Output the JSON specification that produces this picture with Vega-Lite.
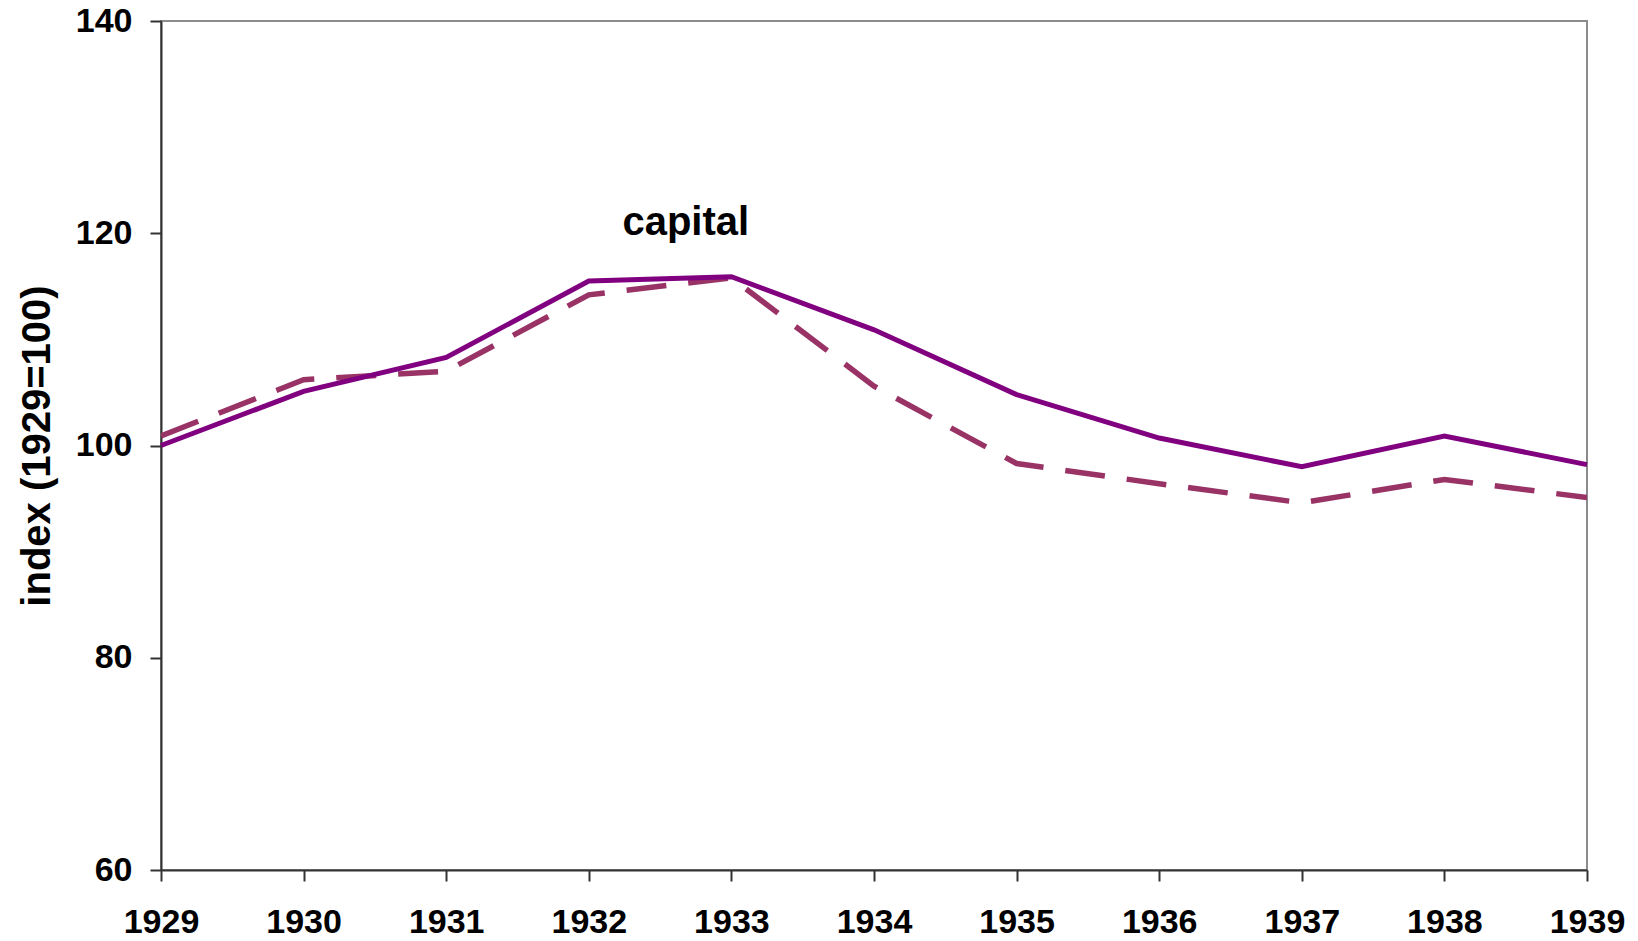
{
  "$schema": "https://vega.github.io/schema/vega-lite/v6.json",
  "width": 1426,
  "height": 849,
  "autosize": {"type": "none"},
  "padding": {"left": 161, "top": 21, "right": 51, "bottom": 71},
  "background": "white",
  "config": {
    "view": {"stroke": "#8c8c8c", "strokeWidth": 2},
    "font": "Liberation Sans"
  },
  "datasets": {
    "series": [
      {"year": 1929, "value": 100.0, "series": "capital"},
      {"year": 1930, "value": 105.1, "series": "capital"},
      {"year": 1931, "value": 108.3, "series": "capital"},
      {"year": 1932, "value": 115.5, "series": "capital"},
      {"year": 1933, "value": 115.9, "series": "capital"},
      {"year": 1934, "value": 110.9, "series": "capital"},
      {"year": 1935, "value": 104.8, "series": "capital"},
      {"year": 1936, "value": 100.7, "series": "capital"},
      {"year": 1937, "value": 98.0, "series": "capital"},
      {"year": 1938, "value": 100.9, "series": "capital"},
      {"year": 1939, "value": 98.2, "series": "capital"},
      {"year": 1929, "value": 100.9, "series": "other"},
      {"year": 1930, "value": 106.2, "series": "other"},
      {"year": 1931, "value": 107.0, "series": "other"},
      {"year": 1932, "value": 114.2, "series": "other"},
      {"year": 1933, "value": 115.8, "series": "other"},
      {"year": 1934, "value": 105.6, "series": "other"},
      {"year": 1935, "value": 98.3, "series": "other"},
      {"year": 1936, "value": 96.4, "series": "other"},
      {"year": 1937, "value": 94.6, "series": "other"},
      {"year": 1938, "value": 96.8, "series": "other"},
      {"year": 1939, "value": 95.1, "series": "other"}
    ],
    "labels": [
      {"year": 1932.68, "value": 121.0, "text": "capital"}
    ]
  },
  "layer": [
    {
      "data": {"name": "series"},
      "transform": [{"filter": "datum.series === 'other'"}],
      "mark": {"type": "line", "color": "#993366", "strokeWidth": 5.5, "strokeDash": [40, 22], "clip": true},
      "encoding": {
        "x": {
          "field": "year", "type": "quantitative",
          "scale": {"domain": [1929, 1939], "nice": false, "zero": false},
          "axis": {
            "values": [1929, 1930, 1931, 1932, 1933, 1934, 1935, 1936, 1937, 1938, 1939],
            "format": "d", "title": null, "grid": false,
            "domainColor": "#333333", "domainWidth": 2,
            "tickColor": "#333333", "tickWidth": 2, "tickSize": 11,
            "labelFont": "Liberation Sans", "labelFontWeight": "bold", "labelFontSize": 34,
            "labelColor": "black", "labelPadding": 24, "labelFlush": false, "labelOverlap": false
          }
        },
        "y": {
          "field": "value", "type": "quantitative",
          "scale": {"domain": [60, 140], "nice": false, "zero": false},
          "axis": {
            "values": [60, 80, 100, 120, 140],
            "title": "index (1929=100)", "grid": false,
            "domainColor": "#333333", "domainWidth": 2,
            "tickColor": "#333333", "tickWidth": 2, "tickSize": 11,
            "labelFont": "Liberation Sans", "labelFontWeight": "bold", "labelFontSize": 34,
            "labelColor": "black", "labelPadding": 18,
            "titleFont": "Liberation Sans", "titleFontWeight": "bold", "titleFontSize": 40,
            "titleColor": "black", "titlePadding": 18
          }
        }
      }
    },
    {
      "data": {"name": "series"},
      "transform": [{"filter": "datum.series === 'capital'"}],
      "mark": {"type": "line", "color": "#800080", "strokeWidth": 5},
      "encoding": {
        "x": {"field": "year", "type": "quantitative"},
        "y": {"field": "value", "type": "quantitative"}
      }
    },
    {
      "data": {"name": "labels"},
      "mark": {"type": "text", "font": "Liberation Sans", "fontWeight": "bold", "fontSize": 40, "color": "black", "baseline": "middle", "align": "center"},
      "encoding": {
        "x": {"field": "year", "type": "quantitative"},
        "y": {"field": "value", "type": "quantitative"},
        "text": {"field": "text"}
      }
    }
  ]
}
